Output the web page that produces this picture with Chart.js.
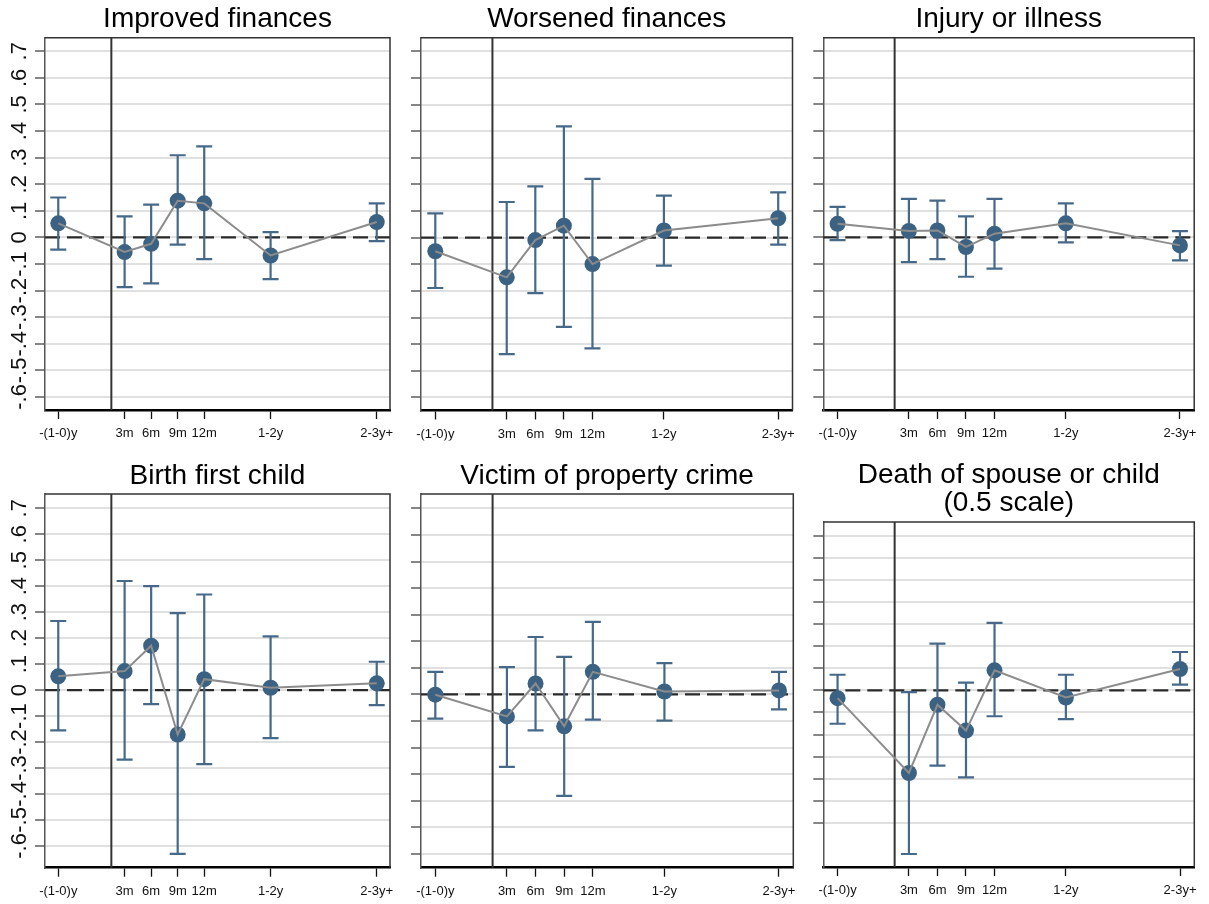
<!DOCTYPE html>
<html>
<head>
<meta charset="utf-8">
<title>Event-study estimates by life event</title>
<script src="https://cdn.jsdelivr.net/npm/chart.js@4.4.1/dist/chart.umd.min.js"></script>
<style>
  html, body { margin: 0; padding: 0; background: #ffffff; }
  #wrap { position: relative; width: 1209px; height: 904px; overflow: hidden; }
  #wrap canvas { position: absolute; }
</style>
</head>
<body>
<div id="wrap"></div>
<script>
// Event-time positions on the x axis and their labels
const xTickPositions = [-1.5, 1, 2, 3, 4, 6.5, 10.5];
const xTickLabels = ["-(1-0)y", "3m", "6m", "9m", "12m", "1-2y", "2-3y+"];
const eventLinePosition = 0.5;

// Y axis ticks
const yTickValues = [-0.6, -0.5, -0.4, -0.3, -0.2, -0.1, 0, 0.1, 0.2, 0.3, 0.4, 0.5, 0.6, 0.7];
const yTickLabels = ["-.6", "-.5", "-.4", "-.3", "-.2", "-.1", "0", ".1", ".2", ".3", ".4", ".5", ".6", ".7"];

// Point estimates and 95% confidence bounds per event
const improvedEst = [0.053, -0.055, -0.024, 0.138, 0.128, -0.068, 0.058];
const improvedLo  = [-0.046, -0.187, -0.173, -0.027, -0.082, -0.157, -0.014];
const improvedHi  = [0.150, 0.079, 0.123, 0.309, 0.342, 0.020, 0.128];

const worsenedEst = [-0.051, -0.149, -0.009, 0.045, -0.099, 0.027, 0.073];
const worsenedLo  = [-0.189, -0.437, -0.208, -0.335, -0.416, -0.105, -0.026];
const worsenedHi  = [0.091, 0.134, 0.193, 0.418, 0.221, 0.158, 0.170];

const injuryEst = [0.051, 0.024, 0.026, -0.036, 0.014, 0.053, -0.030];
const injuryLo  = [-0.010, -0.093, -0.082, -0.148, -0.117, -0.019, -0.086];
const injuryHi  = [0.115, 0.145, 0.138, 0.079, 0.145, 0.128, 0.024];

const birthEst = [0.053, 0.073, 0.171, -0.171, 0.042, 0.009, 0.026];
const birthLo  = [-0.155, -0.268, -0.054, -0.631, -0.285, -0.185, -0.058];
const birthHi  = [0.266, 0.420, 0.400, 0.296, 0.368, 0.207, 0.109];

const crimeEst = [-0.001, -0.083, 0.041, -0.120, 0.085, 0.011, 0.015];
const crimeLo  = [-0.091, -0.273, -0.135, -0.382, -0.095, -0.099, -0.056];
const crimeHi  = [0.085, 0.103, 0.216, 0.141, 0.273, 0.118, 0.085];

const deathEst = [-0.035, -0.374, -0.065, -0.182, 0.091, -0.032, 0.097];
const deathLo  = [-0.151, -0.741, -0.341, -0.394, -0.117, -0.130, 0.026];
const deathHi  = [0.071, -0.008, 0.212, 0.035, 0.306, 0.071, 0.174];

const panels = [
  { title: "Improved finances", est: improvedEst, lo: improvedLo, hi: improvedHi, yMin: -0.649, yMax: 0.751 },
  { title: "Worsened finances", est: worsenedEst, lo: worsenedLo, hi: worsenedHi, yMin: -0.649, yMax: 0.751 },
  { title: "Injury or illness", est: injuryEst, lo: injuryLo, hi: injuryHi, yMin: -0.649, yMax: 0.751 },
  { title: "Birth first child", est: birthEst, lo: birthLo, hi: birthHi, yMin: -0.684, yMax: 0.755 },
  { title: "Victim of property crime", est: crimeEst, lo: crimeLo, hi: crimeHi, yMin: -0.652, yMax: 0.754 },
  { title: ["Death of spouse or child", "(0.5 scale)"], est: deathEst, lo: deathLo, hi: deathHi, yMin: -0.800, yMax: 0.763 }
];

// Placement of each panel's canvas and its inner margins
const frames = [
  { left: 0,   top: 0,   width: 406, height: 452, axisW: 45,   padRight: 16,   padBottom: 12,  titleTop: 5.3, titleBottom: 4.4, yLabels: true },
  { left: 406, top: 0,   width: 402, height: 452, axisW: 15,   padRight: 15.5, padBottom: 11.5, titleTop: 5.3, titleBottom: 4.4, yLabels: false },
  { left: 808, top: 0,   width: 401, height: 452, axisW: 15.3, padRight: 14.8, padBottom: 12,  titleTop: 5.3, titleBottom: 4.4, yLabels: false },
  { left: 0,   top: 452, width: 406, height: 452, axisW: 45,   padRight: 16,   padBottom: 6.3, titleTop: 10.3, titleBottom: 3.7, yLabels: true },
  { left: 406, top: 452, width: 402, height: 452, axisW: 15,   padRight: 14.7, padBottom: 6.3, titleTop: 10.3, titleBottom: 3.7, yLabels: false },
  { left: 808, top: 452, width: 401, height: 452, axisW: 15.3, padRight: 14.7, padBottom: 7,   titleTop: 9.4, titleBottom: 4.6, yLabels: false }
];

const FONT = "'Liberation Sans', Arial, sans-serif";
const MARKER = "#3b6282";
const BAR = "#46698a";
const LINK = "#8c8c8c";
const DARK = "#2a2a2a";

// Reference lines, error bars, frame and rotated y labels
const overlay = {
  id: "overlay",
  beforeDatasetsDraw(chart, args, opts) {
    const { ctx, chartArea: a, scales: { x, y } } = chart;
    const p = opts.panel;
    ctx.save();
    // zero line
    const y0 = y.getPixelForValue(0);
    ctx.strokeStyle = DARK;
    ctx.lineWidth = 2.2;
    ctx.setLineDash([15, 7]);
    ctx.beginPath();
    ctx.moveTo(a.left, y0);
    ctx.lineTo(a.right, y0);
    ctx.stroke();
    ctx.setLineDash([]);
    // event line
    const xe = x.getPixelForValue(eventLinePosition);
    ctx.strokeStyle = "#333333";
    ctx.lineWidth = 2;
    ctx.beginPath();
    ctx.moveTo(xe, a.top);
    ctx.lineTo(xe, a.bottom);
    ctx.stroke();
    // confidence intervals
    ctx.strokeStyle = BAR;
    ctx.lineWidth = 2.2;
    xTickPositions.forEach((xv, i) => {
      const px = x.getPixelForValue(xv);
      const yl = y.getPixelForValue(p.lo[i]);
      const yh = y.getPixelForValue(p.hi[i]);
      ctx.beginPath();
      ctx.moveTo(px, yl); ctx.lineTo(px, yh);
      ctx.moveTo(px - 8, yl); ctx.lineTo(px + 8, yl);
      ctx.moveTo(px - 8, yh); ctx.lineTo(px + 8, yh);
      ctx.stroke();
    });
    ctx.restore();
  },
  afterDraw(chart, args, opts) {
    const { ctx, chartArea: a, scales: { y } } = chart;
    ctx.save();
    // top and right frame
    ctx.strokeStyle = "#333333";
    ctx.lineWidth = 1.5;
    ctx.beginPath();
    ctx.moveTo(a.left, a.top);
    ctx.lineTo(a.right, a.top);
    ctx.lineTo(a.right, a.bottom);
    ctx.stroke();
    if (opts.yLabels) {
      ctx.fillStyle = "#111111";
      ctx.font = "22px " + FONT;
      ctx.textAlign = "center";
      ctx.textBaseline = "middle";
      yTickValues.forEach((v, i) => {
        const py = y.getPixelForValue(v);
        ctx.save();
        ctx.translate(19.5, py);
        ctx.rotate(-Math.PI / 2);
        ctx.fillText(yTickLabels[i], 0, 0);
        ctx.restore();
      });
    }
    ctx.restore();
  }
};

const wrap = document.getElementById("wrap");

panels.forEach((p, k) => {
  const f = frames[k];
  const cv = document.createElement("canvas");
  cv.width = f.width;
  cv.height = f.height;
  cv.style.left = f.left + "px";
  cv.style.top = f.top + "px";
  cv.style.width = f.width + "px";
  cv.style.height = f.height + "px";
  wrap.appendChild(cv);

  const pts = xTickPositions.map((xv, i) => ({ x: xv, y: p.est[i] }));

  new Chart(cv.getContext("2d"), {
    type: "scatter",
    data: {
      datasets: [
        { data: pts, showLine: true, borderColor: LINK, borderWidth: 2, pointRadius: 0, fill: false, order: 0 },
        { data: pts, showLine: false, pointRadius: 8, pointBackgroundColor: MARKER, pointBorderWidth: 0, order: 1 }
      ]
    },
    options: {
      responsive: false,
      animation: false,
      devicePixelRatio: 1,
      events: [],
      clip: false,
      layout: { padding: { left: 0, top: 0, right: f.padRight, bottom: f.padBottom } },
      plugins: {
        legend: { display: false },
        tooltip: { enabled: false },
        title: {
          display: true,
          fullSize: false,
          text: p.title,
          color: "#000000",
          font: { family: FONT, size: 28, weight: "normal", lineHeight: 1.0 },
          padding: { top: f.titleTop, bottom: f.titleBottom }
        },
        overlay: { panel: p, yLabels: f.yLabels }
      },
      scales: {
        x: {
          type: "linear",
          min: -2,
          max: 11,
          afterBuildTicks: (s) => { s.ticks = xTickPositions.map(v => ({ value: v })); },
          afterFit: (s) => { s.height = 30; },
          ticks: {
            autoSkip: false,
            maxRotation: 0,
            minRotation: 0,
            padding: 7,
            color: "#111111",
            font: { family: FONT, size: 13 },
            callback: (v, i) => xTickLabels[i]
          },
          grid: { drawOnChartArea: false, drawTicks: true, tickLength: 9, tickColor: "#111111", tickWidth: 1.3 },
          border: { display: true, color: "#000000", width: 2.5 }
        },
        y: {
          type: "linear",
          min: p.yMin,
          max: p.yMax,
          afterBuildTicks: (s) => { s.ticks = yTickValues.map(v => ({ value: v })); },
          afterFit: (s) => { s.width = f.axisW; },
          ticks: { display: false },
          grid: { color: "#e0e0e0", lineWidth: 2, drawTicks: true, tickLength: 10, tickColor: "#444444", tickWidth: 1.3 },
          border: { display: true, color: "#555555", width: 1.5 }
        }
      }
    },
    plugins: [overlay]
  });
});
</script>
</body>
</html>
